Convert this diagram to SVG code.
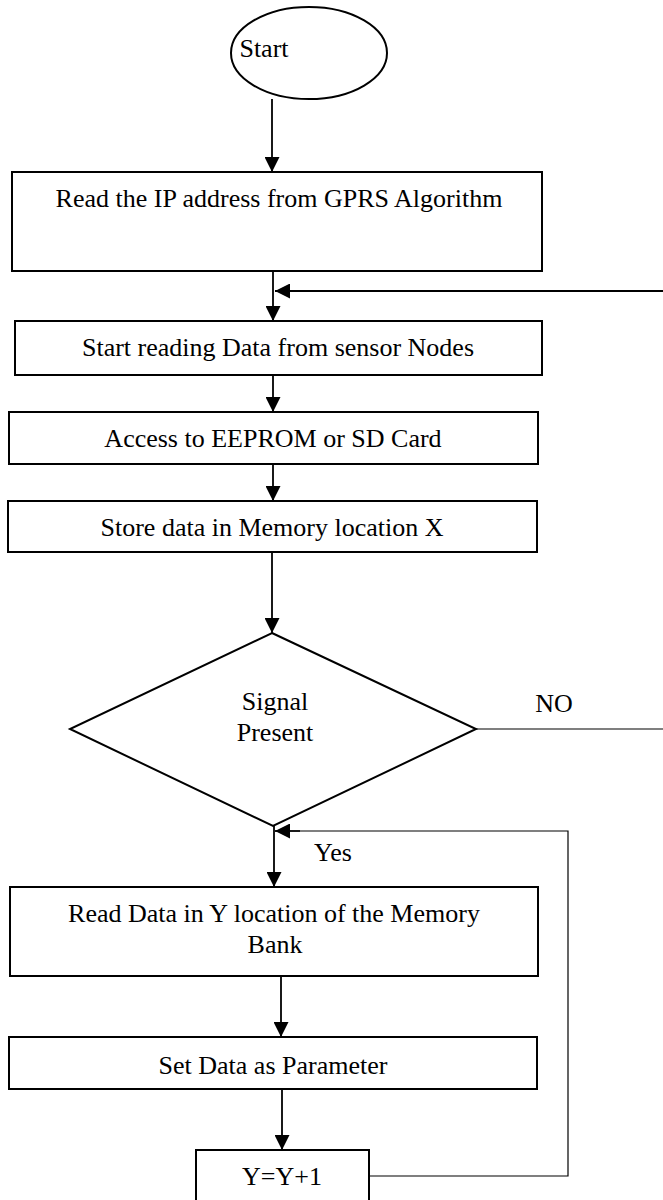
<svg xmlns="http://www.w3.org/2000/svg" width="663" height="1200" viewBox="0 0 663 1200">
<style>
.box{fill:#fff;stroke:#000;stroke-width:2}
.t{font-family:"Liberation Serif","Times New Roman",serif;font-size:26px;fill:#000;text-anchor:middle}
.c{fill:none;stroke:#000;stroke-width:1.8}
.thin{fill:none;stroke:#000;stroke-width:1.2}
</style>
<defs>
<marker id="arr" markerUnits="userSpaceOnUse" markerWidth="15" markerHeight="15" refX="15" refY="7.5" orient="auto">
<path d="M0,0 L15,7.5 L0,15 z" fill="#000"/>
</marker>
</defs>
<rect width="663" height="1200" fill="#fff"/>
<g id="connectors">
<line class="c" x1="272" y1="99" x2="272" y2="172" marker-end="url(#arr)"/>
<line class="c" x1="273" y1="271" x2="273" y2="321" marker-end="url(#arr)"/>
<line class="c" x1="663" y1="291" x2="275" y2="291" marker-end="url(#arr)"/>
<line class="c" x1="273" y1="375" x2="273" y2="412" marker-end="url(#arr)"/>
<line class="c" x1="273" y1="464" x2="273" y2="501" marker-end="url(#arr)"/>
<line class="c" x1="272" y1="552" x2="272" y2="633" marker-end="url(#arr)"/>
<line class="thin" x1="476" y1="729" x2="663" y2="729"/>
<line class="c" x1="274" y1="826" x2="274" y2="887" marker-end="url(#arr)"/>
<polyline class="thin" points="369,1176 568,1176 568,831 300,831"/>
<line class="c" x1="300" y1="831" x2="275" y2="831" marker-end="url(#arr)"/>
<line class="c" x1="281" y1="976" x2="281" y2="1037" marker-end="url(#arr)"/>
<line class="c" x1="282" y1="1089" x2="282" y2="1150" marker-end="url(#arr)"/>
<text class="t" x="554" y="712">NO</text>
<text class="t" x="333" y="861">Yes</text>
</g>
<g id="start">
<ellipse class="box" cx="309" cy="53" rx="78" ry="46"/>
<text class="t" x="264" y="57">Start</text>
</g>
<g id="readIP">
<rect class="box" x="12" y="172" width="530" height="99"/>
<text class="t" x="279" y="207">Read the IP address from GPRS Algorithm</text>
</g>
<g id="startReading">
<rect class="box" x="15" y="321" width="527" height="54"/>
<text class="t" x="278" y="356">Start reading Data from sensor Nodes</text>
</g>
<g id="access">
<rect class="box" x="9" y="412" width="529" height="52"/>
<text class="t" x="273" y="447">Access to EEPROM or SD Card</text>
</g>
<g id="store">
<rect class="box" x="8" y="501" width="529" height="51"/>
<text class="t" x="272" y="536">Store data in Memory location X</text>
</g>
<g id="signal">
<polygon class="box" points="272,633 476,729 273,826 70,729"/>
<text class="t" x="275" y="710">Signal</text>
<text class="t" x="275" y="741">Present</text>
</g>
<g id="readY">
<rect class="box" x="10" y="887" width="528" height="89"/>
<text class="t" x="274" y="922">Read Data in Y location of the Memory</text>
<text class="t" x="275" y="953">Bank</text>
</g>
<g id="setData">
<rect class="box" x="9" y="1037" width="528" height="52"/>
<text class="t" x="273" y="1074">Set Data as Parameter</text>
</g>
<g id="increment">
<rect class="box" x="196" y="1150" width="173" height="54"/>
<text class="t" x="282" y="1185">Y=Y+1</text>
</g>
</svg>
